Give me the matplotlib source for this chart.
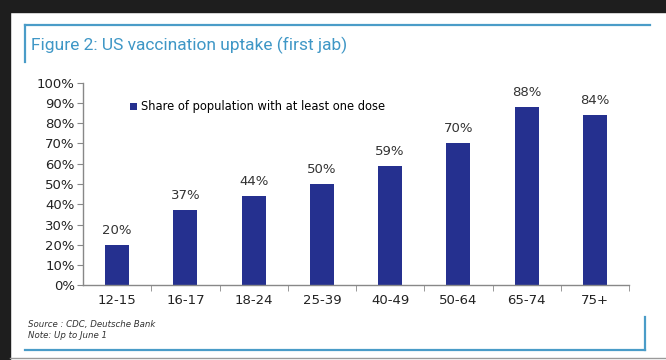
import matplotlib.pyplot as plt
from matplotlib.patches import Rectangle
from matplotlib.lines import Line2D

# datos
age_groups = ["12-15", "16-17", "18-24", "25-39", "40-49", "50-64", "65-74", "75+"]
share_first_dose = [20, 37, 44, 50, 59, 70, 88, 84]
y_ticks = list(range(0, 101, 10))

W, H = 666, 360
fig = plt.figure(figsize=(W / 100, H / 100), dpi=100)
fig.patch.set_facecolor("white")

def px(x, y):
    return x / W, 1 - y / H

# marco oscuro de la captura
fig.add_artist(Rectangle((0, 1 - 12 / H), 1, 12 / H, transform=fig.transFigure,
                         color="#1e1e1e", zorder=0))
fig.add_artist(Rectangle((0, 0), 10 / W, 1, transform=fig.transFigure,
                         color="#1e1e1e", zorder=0))
fig.add_artist(Line2D([10 / W, 1], [1 - 357.5 / H] * 2, transform=fig.transFigure,
                      color="#9a9a9a", lw=1.0))

# lineas azules del recuadro
blue = "#4a9cc8"
fig.add_artist(Line2D([25 / W, 650 / W], [1 - 25 / H] * 2, transform=fig.transFigure,
                      color=blue, lw=1.6))
fig.add_artist(Line2D([25 / W] * 2, [1 - 25 / H, 1 - 62 / H], transform=fig.transFigure,
                      color=blue, lw=1.6))
fig.add_artist(Line2D([25 / W, 645 / W], [1 - 349.5 / H] * 2, transform=fig.transFigure,
                      color=blue, lw=1.6))
fig.add_artist(Line2D([645 / W] * 2, [1 - 349.5 / H, 1 - 317 / H], transform=fig.transFigure,
                      color=blue, lw=1.6))

fig.text(*px(31, 45), "Figure 2: US vaccination uptake (first jab)", color="#3f97c6",
         fontsize=12.5, va="center", ha="left", family="Roboto")

# ejes
x0, x1, y_top, y_bot = 83, 629, 82.7, 285.3
ax = fig.add_axes([x0 / W, 1 - y_bot / H, (x1 - x0) / W, (y_bot - y_top) / H])
ax.set_facecolor("none")

pos = list(range(len(age_groups)))
bars = ax.bar(pos, share_first_dose, width=0.35, color="#25308f",
              label="Share of population with at least one dose")
ax.set_xlim(-0.5, len(age_groups) - 0.5)
ax.set_ylim(0, 100)

for p, v in zip(pos, share_first_dose):
    ax.text(p, v + 4, f"{v}%", ha="center", va="bottom", fontsize=9.5,
            color="#333333")

ax.set_yticks(y_ticks)
ax.set_yticklabels([f"{t}%" for t in y_ticks], fontsize=9.5, color="#222222")
ax.set_xticks(pos)
ax.set_xticklabels(age_groups, fontsize=9.5, color="#222222")
ax.set_xticks([p + 0.5 for p in pos], minor=True)
ax.tick_params(axis="x", which="major", length=0, pad=6)
ax.tick_params(axis="x", which="minor", length=4, color="#888888")
ax.tick_params(axis="y", length=4, color="#888888", pad=2)

for s in ["top", "right"]:
    ax.spines[s].set_visible(False)
for s in ["left", "bottom"]:
    ax.spines[s].set_color("#888888")
    ax.spines[s].set_linewidth(1.0)

ax.legend(loc="upper left", bbox_to_anchor=(0.078, 0.935), frameon=False,
          fontsize=8.3, handlelength=0.6, handleheight=0.6, handletextpad=0.3,
          borderaxespad=0)

fig.text(*px(28, 324), "Source : CDC, Deutsche Bank", fontsize=6.2, style="italic",
         color="#333333", va="center")
fig.text(*px(28, 336), "Note: Up to June 1", fontsize=6.2, style="italic",
         color="#333333", va="center")

fig.savefig("out.png", dpi=100)
